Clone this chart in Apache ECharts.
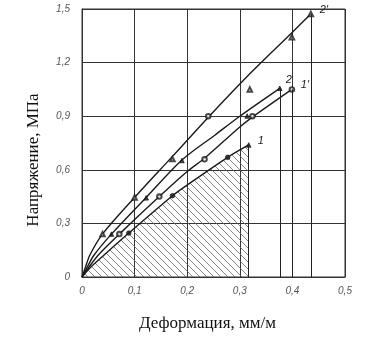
<!DOCTYPE html>
<html>
<head>
<meta charset="utf-8">
<script src="https://cdn.jsdelivr.net/npm/echarts@6/dist/echarts.min.js"></script>
<style>
html,body{margin:0;padding:0;background:#fff}
#chart{width:376px;height:340px}
</style>
</head>
<body>
<div id="chart"></div>
<script>
// curves: [strain, stress]
var curve1 = [[0,0],[0.015,0.05],[0.042,0.123],[0.089,0.246],[0.172,0.455],[0.2,0.515],[0.277,0.67],[0.317,0.739]];
var curve1p = [[0,0],[0.012,0.05],[0.031,0.123],[0.071,0.24],[0.147,0.45],[0.2,0.59],[0.233,0.665],[0.3,0.84],[0.324,0.895],[0.399,1.05]];
var curve2 = [[0,0],[0.009,0.05],[0.023,0.123],[0.056,0.24],[0.122,0.445],[0.19,0.655],[0.253,0.795],[0.3,0.9],[0.376,1.056]];
var curve2p = [[0,0],[0.006,0.05],[0.015,0.123],[0.039,0.24],[0.1,0.445],[0.172,0.675],[0.242,0.9],[0.32,1.14],[0.4,1.37],[0.435,1.472]];

// measured points
var points1 = [[0.089,0.246],[0.172,0.455],[0.277,0.67]];
var points1end = [[0.317,0.739]];
var points1p = [[0.071,0.24],[0.147,0.45],[0.233,0.659],[0.324,0.9],[0.399,1.05]];
var points2 = [[0.056,0.24],[0.122,0.443],[0.19,0.652],[0.314,0.901],[0.376,1.056]];
var points2p = [[0.039,0.24],[0.1,0.445],[0.172,0.66],[0.319,1.05],[0.399,1.342],[0.435,1.472]];
var points2pMid = [[0.24,0.9]];

var curveNames = ['1', '1\u2032', '2', '2\u2032'];

var hatch = document.createElement('canvas');
hatch.width = 7;
hatch.height = 7;
var hc = hatch.getContext('2d');
hc.strokeStyle = '#666';
hc.lineWidth = 0.8;
hc.beginPath();
hc.moveTo(0, 0); hc.lineTo(7, 7);
hc.moveTo(-1, 6); hc.lineTo(1, 8);
hc.moveTo(6, -1); hc.lineTo(8, 1);
hc.stroke();

function dropLine(data) {
    var last = data[data.length - 1];
    return {
        silent: true,
        symbol: 'none',
        label: {show: false},
        lineStyle: {color: '#222', width: 1, type: 'solid'},
        data: [[{coord: [last[0], 0]}, {coord: last}]]
    };
}

function endLabel(name, offset) {
    return {
        show: true,
        formatter: name,
        fontFamily: 'Liberation Sans',
        fontStyle: 'italic',
        fontSize: 11,
        color: '#222',
        offset: offset
    };
}

function curve(data, name, offset, area) {
    var s = {
        type: 'line',
        data: data,
        smooth: 0.3,
        showSymbol: false,
        silent: true,
        lineStyle: {color: '#1a1a1a', width: 1.4},
        markLine: dropLine(data),
        endLabel: endLabel(name, offset),
        z: 3
    };
    if (area) s.areaStyle = {color: {image: hatch, repeat: 'repeat'}, opacity: 1};
    return s;
}

function marks(data, symbol) {
    return {
        type: 'scatter',
        data: data,
        symbol: symbol,
        symbolSize: 4.5,
        silent: true,
        itemStyle: {color: '#1a1a1a', borderColor: '#1a1a1a', borderWidth: 1},
        z: 4
    };
}

function comma(v) { return String(v).replace('.', ','); }

var chart = echarts.init(document.getElementById('chart'));
var option = {
    backgroundColor: '#fff',
    animation: false,
    grid: {left: 82, right: 31, top: 9, bottom: 63, show: true, borderColor: '#333', borderWidth: 1},
    xAxis: {
        type: 'value',
        min: 0, max: 0.5, interval: 0.1,
        name: 'Деформация, мм/м',
        nameLocation: 'middle',
        nameGap: 38,
        nameTextStyle: {fontFamily: 'Liberation Serif', fontSize: 17, color: '#111', padding: [0, 12, 0, 0]},
        axisLine: {lineStyle: {color: '#333'}},
        axisTick: {show: false},
        axisLabel: {formatter: comma, fontFamily: 'Liberation Sans', fontStyle: 'italic', fontSize: 10, color: '#555', margin: 9},
        splitLine: {lineStyle: {color: '#333', width: 1}}
    },
    yAxis: {
        type: 'value',
        min: 0, max: 1.5, interval: 0.3,
        name: 'Напряжение, МПа',
        nameLocation: 'middle',
        nameGap: 40,
        nameTextStyle: {fontFamily: 'Liberation Serif', fontSize: 17, color: '#111', padding: [0, 34, 0, 0]},
        axisLine: {lineStyle: {color: '#333'}},
        axisTick: {show: false},
        axisLabel: {formatter: function (v) { return comma(Math.round(v * 10) / 10); }, fontFamily: 'Liberation Sans', fontStyle: 'italic', fontSize: 10, color: '#555', margin: 12},
        splitLine: {lineStyle: {color: '#333', width: 1}}
    },
    series: [
        curve(curve1, curveNames[0], [1, -4], true),
        curve(curve1p, curveNames[1], [1, -4]),
        curve(curve2, curveNames[2], [-2, -8]),
        curve(curve2p, curveNames[3], [1, -4]),
        marks(points1, 'circle'),
        marks(points1end, 'triangle'),
        marks(points1p, 'emptyCircle'),
        marks(points2, 'triangle'),
        marks(points2p, 'emptyTriangle'),
        marks(points2pMid, 'emptyCircle')
    ]
};
chart.setOption(option);
</script>
</body>
</html>
